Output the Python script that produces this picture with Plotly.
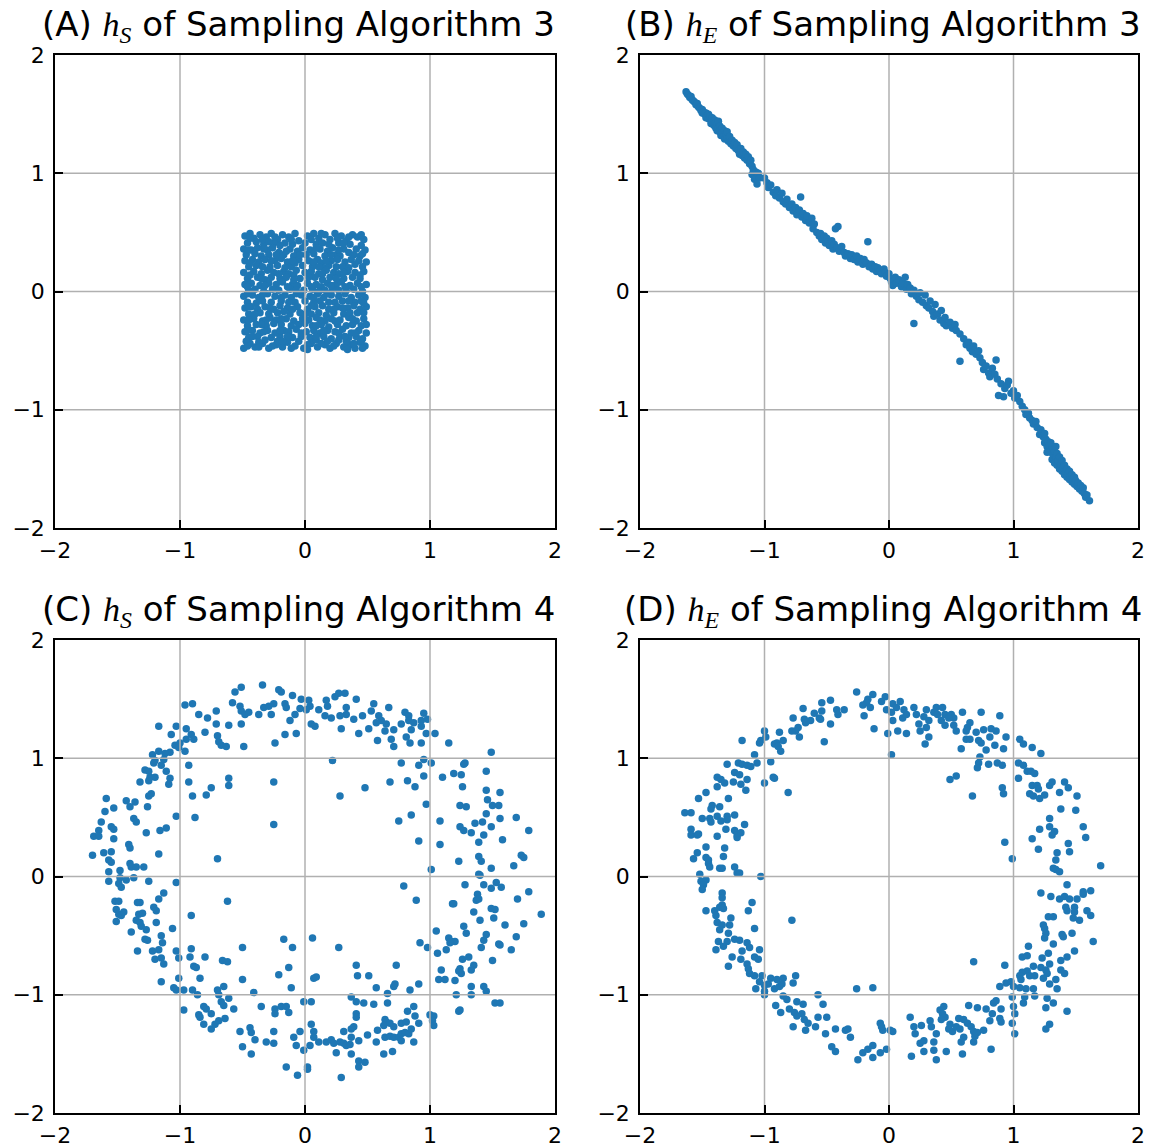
import plotly.graph_objects as go

# ---------------- data ----------------
# (A) h_S, Sampling Algorithm 3: uniform block in [-0.5, 0.5]^2
pts_a = [
    (-0.48,0.47),(-0.44,0.49),(-0.41,0.45),(-0.36,0.48),(-0.31,0.46),(-0.27,0.49),(-0.22,0.44),(-0.18,0.48),(-0.13,0.46),(-0.08,0.49),
    (-0.05,0.43),(0.02,0.47),(0.07,0.49),(0.11,0.45),(0.16,0.48),(0.2,0.44),(0.24,0.49),(0.29,0.47),(0.33,0.43),(0.38,0.48),
    (0.42,0.46),(0.47,0.44),(-0.46,0.41),(-0.39,0.42),(-0.33,0.4),(-0.25,0.41),(-0.16,0.41),(-0.1,0.4),(0.0,0.41),(0.09,0.4),
    (0.14,0.41),(0.27,0.41),(0.36,0.4),(0.45,0.39),(-0.2,0.39),
    (-0.49,0.36),(-0.43,0.35),(-0.38,0.37),(-0.3,0.35),(-0.26,0.37),(-0.21,0.33),(-0.12,0.36),(-0.06,0.34),(-0.02,0.37),(0.04,0.35),
    (0.12,0.36),(0.18,0.34),(0.22,0.37),(0.31,0.36),(0.35,0.33),(0.41,0.36),(0.48,0.35),(-0.47,0.31),(-0.35,0.3),(-0.29,0.31),
    (-0.17,0.31),(-0.09,0.3),(0.01,0.31),(0.07,0.32),(0.16,0.3),(0.25,0.31),(0.28,0.3),(0.39,0.31),(0.44,0.3),(-0.4,0.32),
    (-0.48,0.26),(-0.42,0.27),(-0.37,0.25),(-0.32,0.27),(-0.24,0.26),(-0.19,0.28),(-0.14,0.25),(-0.05,0.27),(0.03,0.26),(0.1,0.27),
    (0.13,0.24),(0.21,0.26),(0.26,0.27),(0.32,0.25),(0.37,0.27),(0.43,0.26),(0.49,0.25),(-0.45,0.21),(-0.39,0.22),(-0.28,0.21),
    (-0.22,0.22),(-0.11,0.21),(-0.02,0.22),(0.06,0.21),(0.15,0.2),(0.19,0.22),(0.3,0.21),(0.35,0.2),(0.46,0.21),(-0.08,0.24),
    (-0.49,0.16),(-0.41,0.17),(-0.35,0.15),(-0.3,0.18),(-0.25,0.16),(-0.17,0.17),(-0.13,0.15),(-0.07,0.18),(0.0,0.16),(0.05,0.17),
    (0.11,0.15),(0.17,0.18),(0.23,0.16),(0.27,0.15),(0.34,0.17),(0.4,0.16),(0.47,0.17),(-0.46,0.11),(-0.38,0.12),(-0.32,0.1),
    (-0.2,0.11),(-0.15,0.12),(-0.04,0.11),(0.08,0.12),(0.14,0.1),(0.2,0.12),(0.31,0.11),(0.38,0.12),(0.44,0.11),(-0.27,0.12),
    (-0.48,0.06),(-0.43,0.07),(-0.36,0.05),(-0.29,0.07),(-0.23,0.06),(-0.18,0.08),(-0.1,0.06),(-0.06,0.05),(0.02,0.07),(0.09,0.06),
    (0.13,0.04),(0.18,0.07),(0.25,0.06),(0.29,0.08),(0.36,0.05),(0.42,0.07),(0.49,0.06),(-0.45,0.01),(-0.4,0.02),(-0.33,0.0),
    (-0.26,0.02),(-0.21,0.01),(-0.12,0.02),(-0.01,0.01),(0.06,0.02),(0.16,0.01),(0.22,0.02),(0.33,0.01),(0.39,0.02),(0.46,0.0),
    (-0.49,-0.04),(-0.42,-0.03),(-0.37,-0.05),(-0.3,-0.02),(-0.24,-0.04),(-0.16,-0.03),(-0.11,-0.05),(-0.03,-0.03),(0.04,-0.04),(0.1,-0.02),
    (0.15,-0.05),(0.21,-0.03),(0.27,-0.04),(0.32,-0.02),(0.37,-0.05),(0.43,-0.03),(0.48,-0.05),(-0.46,-0.09),(-0.34,-0.08),(-0.27,-0.09),
    (-0.19,-0.08),(-0.08,-0.09),(0.0,-0.08),(0.07,-0.09),(0.12,-0.08),(0.24,-0.09),(0.3,-0.08),(0.4,-0.09),(0.45,-0.08),(-0.39,-0.1),
    (-0.48,-0.14),(-0.43,-0.13),(-0.38,-0.15),(-0.32,-0.13),(-0.25,-0.15),(-0.2,-0.12),(-0.14,-0.14),(-0.06,-0.13),(0.02,-0.15),(0.08,-0.13),
    (0.14,-0.12),(0.19,-0.15),(0.26,-0.13),(0.34,-0.14),(0.39,-0.12),(0.44,-0.15),(0.49,-0.13),(-0.45,-0.19),(-0.36,-0.18),(-0.29,-0.19),
    (-0.22,-0.18),(-0.12,-0.19),(-0.04,-0.18),(0.05,-0.19),(0.11,-0.18),(0.17,-0.2),(0.23,-0.18),(0.31,-0.19),(0.42,-0.18),(-0.17,-0.17),
    (-0.49,-0.24),(-0.41,-0.23),(-0.34,-0.25),(-0.28,-0.22),(-0.23,-0.24),(-0.15,-0.23),(-0.09,-0.25),(-0.02,-0.23),(0.03,-0.24),(0.09,-0.22),
    (0.16,-0.25),(0.21,-0.23),(0.28,-0.24),(0.35,-0.22),(0.41,-0.25),(0.47,-0.23),(-0.46,-0.29),(-0.39,-0.28),(-0.31,-0.29),(-0.19,-0.28),
    (-0.11,-0.29),(-0.05,-0.28),(0.06,-0.29),(0.13,-0.28),(0.19,-0.3),(0.26,-0.28),(0.33,-0.29),(0.38,-0.28),(0.45,-0.29),(-0.25,-0.27),
    (-0.48,-0.34),(-0.42,-0.33),(-0.36,-0.35),(-0.3,-0.33),(-0.24,-0.35),(-0.17,-0.33),(-0.13,-0.34),(-0.07,-0.32),(0.01,-0.34),(0.07,-0.33),
    (0.12,-0.35),(0.18,-0.33),(0.24,-0.34),(0.3,-0.32),(0.37,-0.35),(0.43,-0.33),(0.49,-0.35),(-0.45,-0.39),(-0.38,-0.38),(-0.27,-0.39),
    (-0.2,-0.38),(-0.1,-0.39),(-0.03,-0.38),(0.04,-0.39),(0.15,-0.38),(0.21,-0.4),(0.28,-0.38),(0.35,-0.39),(0.41,-0.38),(0.46,-0.4),
    (-0.49,-0.48),(-0.44,-0.44),(-0.4,-0.47),(-0.34,-0.44),(-0.29,-0.48),(-0.23,-0.45),(-0.18,-0.47),(-0.14,-0.43),(-0.08,-0.46),(-0.01,-0.48),
    (0.05,-0.44),(0.1,-0.47),(0.16,-0.45),(0.2,-0.48),(0.25,-0.44),(0.31,-0.47),(0.36,-0.45),(0.4,-0.48),(0.44,-0.43),(0.48,-0.46),
    (-0.47,-0.42),(-0.32,-0.41),(-0.22,-0.42),(-0.05,-0.42),(0.09,-0.41),(0.18,-0.42),(0.33,-0.42),(0.39,-0.44),(-0.37,-0.43),(0.02,-0.45),
    (-0.44,0.45),(-0.34,0.44),(-0.24,0.46),(-0.11,0.44),(0.05,0.44),(0.13,0.49),(0.26,0.45),(0.35,0.46),(0.45,0.48),(-0.29,0.42),
    (0.19,0.4),(0.31,0.41),(-0.45,0.35),(-0.33,0.36),(-0.15,0.34),(0.09,0.37),(0.27,0.35),(0.46,0.32),(-0.23,0.31),(0.21,0.31),
    (-0.04,0.31),(-0.44,0.24),(-0.27,0.26),(-0.1,0.26),(0.07,0.25),(0.17,0.26),(0.4,0.23),(-0.34,0.21),(0.25,0.21),(-0.16,0.2),
    (0.11,0.21),(-0.44,0.14),(-0.21,0.15),(-0.09,0.14),(0.14,0.15),(0.31,0.16),(0.44,0.14),(-0.35,0.11),(0.03,0.12),(0.25,0.11),
    (-0.09,0.1),(-0.46,0.04),(-0.32,0.05),(-0.14,0.04),(0.05,0.04),(0.21,0.05),(0.32,0.04),(0.45,0.04),(-0.07,0.01),(0.11,0.0),
    (0.27,0.01),(-0.46,-0.02),(-0.34,-0.03),(-0.19,-0.05),(-0.07,-0.02),(0.07,-0.05),(0.18,-0.02),(0.35,-0.08),(0.47,-0.1),(-0.13,-0.09),
    (0.19,-0.09),(-0.45,-0.13),(-0.28,-0.14),(-0.1,-0.15),(0.05,-0.12),(0.23,-0.15),(0.3,-0.14),(0.47,-0.18),(-0.4,-0.19),(0.0,-0.19),
    (0.36,-0.18),(-0.45,-0.24),(-0.31,-0.24),(-0.19,-0.23),(0.0,-0.27),(0.12,-0.24),(0.24,-0.25),(0.38,-0.23),(0.49,-0.28),(-0.35,-0.28),
    (0.09,-0.29),(-0.46,-0.33),(-0.33,-0.34),(-0.2,-0.33),(-0.03,-0.35),(0.15,-0.33),(0.27,-0.35),(0.4,-0.35),(-0.42,-0.38),(-0.14,-0.38),
    (0.09,-0.38),(0.32,-0.38),(-0.46,-0.46),(-0.37,-0.47),(-0.26,-0.46),(-0.11,-0.48),(0.02,-0.49),(0.13,-0.44),(0.23,-0.46),(0.34,-0.49),
    (0.46,-0.48),(-0.18,-0.42),(0.27,-0.41),(0.45,-0.42),
]

# (B) h_E, Sampling Algorithm 3: narrow band along the anti-diagonal
pts_b = [
    (-1.63,1.69),(-1.62,1.67),(-1.61,1.66),(-1.60,1.64),(-1.59,1.65),(-1.58,1.62),(-1.57,1.61),(-1.56,1.60),(-1.55,1.58),(-1.54,1.59),
    (-1.53,1.56),(-1.52,1.55),(-1.51,1.53),(-1.50,1.54),(-1.50,1.51),(-1.49,1.52),(-1.48,1.50),(-1.47,1.51),(-1.47,1.47),(-1.46,1.49),
    (-1.45,1.46),(-1.45,1.50),(-1.44,1.48),(-1.43,1.45),(-1.43,1.42),(-1.42,1.47),(-1.42,1.44),(-1.41,1.41),(-1.40,1.45),(-1.40,1.40),
    (-1.39,1.43),(-1.39,1.38),(-1.38,1.41),(-1.38,1.36),(-1.37,1.39),(-1.37,1.44),(-1.36,1.35),(-1.36,1.40),(-1.35,1.37),(-1.35,1.32),
    (-1.34,1.38),(-1.34,1.34),(-1.33,1.31),(-1.32,1.36),(-1.32,1.29),(-1.31,1.33),(-1.30,1.30),(-1.30,1.35),(-1.29,1.27),(-1.28,1.31),
    (-1.27,1.25),(-1.26,1.28),(-1.25,1.23),(-1.24,1.26),(-1.23,1.21),(-1.22,1.24),(-1.21,1.19),(-1.20,1.16),(-1.19,1.21),(-1.18,1.15),
    (-1.17,1.18),(-1.16,1.13),(-1.15,1.16),(-1.14,1.11),(-1.13,1.14),(-1.12,1.08),(-1.11,1.11),(-1.10,1.06),(-1.09,1.03),(-1.10,0.99),
    (-1.08,0.98),(-1.07,1.01),(-1.06,0.97),(-1.05,1.00),(-1.08,0.95),(-1.04,0.96),(-1.06,0.91),
    (-1.00,0.96),(-0.98,0.92),(-0.97,0.88),(-0.95,0.90),(-0.93,0.84),(-0.91,0.81),(-0.90,0.86),(-0.88,0.79),(-0.86,0.83),(-0.85,0.76),
    (-0.83,0.74),(-0.82,0.78),(-0.80,0.71),(-0.78,0.74),(-0.77,0.68),(-0.75,0.71),(-0.74,0.65),(-0.72,0.69),(-0.71,0.80),(-0.70,0.63),
    (-0.69,0.66),(-0.67,0.60),(-0.66,0.64),(-0.64,0.58),(-0.62,0.62),(-0.61,0.53),(-0.60,0.57),(-0.58,0.50),(-0.56,0.47),(-0.55,0.49),
    (-0.54,0.44),(-0.52,0.47),(-0.51,0.41),(-0.50,0.45),(-0.49,0.42),(-0.48,0.39),(-0.46,0.43),(-0.45,0.36),(-0.44,0.40),(-0.43,0.53),
    (-0.42,0.37),(-0.41,0.55),(-0.40,0.34),(-0.38,0.38),(-0.36,0.33),(-0.35,0.30),(-0.33,0.32),(-0.31,0.28),(-0.30,0.31),(-0.28,0.27),
    (-0.26,0.30),(-0.25,0.25),(-0.23,0.28),(-0.21,0.23),(-0.20,0.27),(-0.18,0.24),(-0.17,0.42),(-0.16,0.21),(-0.14,0.23),(-0.13,0.19),
    (-0.11,0.21),(-0.10,0.17),(-0.09,0.20),(-0.07,0.18),(-0.06,0.15),(-0.04,0.19),(-0.03,0.16),(-0.02,0.13),(0.00,0.15),(0.01,0.11),
    (0.02,0.08),(0.03,0.05),(0.05,0.12),(0.06,0.07),(0.08,0.10),(0.10,0.04),(0.11,0.07),(0.13,0.12),(0.14,0.02),(0.15,0.06),
    (0.17,0.03),(0.18,-0.02),(0.20,0.01),(0.20,-0.27),(0.22,-0.04),(0.24,-0.07),(0.25,-0.01),(0.27,-0.09),(0.29,-0.03),(0.30,-0.12),
    (0.32,-0.14),(0.33,-0.08),(0.35,-0.17),(0.36,-0.21),(0.37,-0.11),(0.39,-0.19),(0.41,-0.24),(0.42,-0.16),(0.44,-0.27),(0.45,-0.22),
    (0.46,-0.29),(0.49,-0.26),(0.51,-0.31),(0.53,-0.28),(0.54,-0.33),(0.57,-0.36),(0.57,-0.59),(0.60,-0.40),(0.62,-0.45),(0.64,-0.43),
    (0.65,-0.48),(0.67,-0.51),(0.68,-0.46),(0.70,-0.53),(0.72,-0.50),(0.73,-0.56),(0.75,-0.60),(0.76,-0.66),(0.78,-0.63),(0.80,-0.69),
    (0.81,-0.72),(0.83,-0.65),(0.85,-0.70),(0.86,-0.58),(0.87,-0.74),(0.88,-0.88),(0.90,-0.78),(0.92,-0.89),(0.93,-0.82),(0.95,-0.79),
    (0.96,-0.76),(0.98,-0.86),(1.00,-0.84),(1.01,-0.90),(1.03,-0.88),(1.05,-0.93),(1.07,-0.97),(1.09,-1.00),(1.10,-1.04),
    (1.12,-1.03),(1.13,-1.07),(1.15,-1.09),(1.16,-1.12),(1.18,-1.10),(1.19,-1.15),(1.21,-1.21),(1.22,-1.17),(1.24,-1.23),(1.25,-1.28),
    (1.26,-1.25),(1.27,-1.31),(1.28,-1.27),(1.28,-1.34),(1.29,-1.30),(1.30,-1.36),(1.31,-1.32),(1.31,-1.42),(1.32,-1.38),(1.33,-1.35),
    (1.33,-1.45),(1.34,-1.40),(1.35,-1.37),(1.35,-1.47),(1.36,-1.43),(1.37,-1.50),(1.37,-1.40),(1.38,-1.46),(1.39,-1.52),(1.39,-1.43),
    (1.40,-1.49),(1.41,-1.55),(1.41,-1.47),(1.42,-1.52),(1.43,-1.57),(1.43,-1.50),(1.44,-1.54),(1.45,-1.59),(1.45,-1.52),(1.46,-1.56),
    (1.47,-1.61),(1.47,-1.55),(1.48,-1.58),(1.49,-1.63),(1.49,-1.57),(1.50,-1.60),(1.51,-1.65),(1.52,-1.62),(1.53,-1.67),(1.54,-1.64),
    (1.55,-1.69),(1.56,-1.66),(1.57,-1.71),(1.58,-1.74),(1.59,-1.72),(1.61,-1.77),(1.25,-1.20),(1.27,-1.36),(1.30,-1.28),(1.34,-1.31),
]

# (C) h_S, Sampling Algorithm 4: noisy ring
pts_c = [
    (-0.51,1.60),(-0.34,1.62),(-0.56,1.56),(-0.21,1.58),(-0.19,1.56),(-0.10,1.53),(-0.03,1.50),(-0.58,1.47),(-0.52,1.44),(-0.51,1.40),
    (-0.48,1.37),(-0.45,1.39),(-0.37,1.37),(-0.33,1.43),(-0.29,1.44),(-0.25,1.46),(-0.16,1.46),(-0.15,1.43),(-0.08,1.37),(-0.12,1.32),
    (-0.27,1.37),(-0.51,1.29),(-0.49,1.10),(-0.24,1.13),(-0.16,1.20),(-0.07,1.21),(-0.04,1.42),(-0.96,1.45),(-0.90,1.46),(-0.85,1.37),
    (-0.78,1.34),(-0.71,1.40),(-0.71,1.29),(-0.61,1.28),(-0.80,1.22),(-0.70,1.19),(-0.69,1.14),(-0.67,1.11),(-0.63,1.10),(-1.17,1.27),
    (-1.07,1.20),(-1.03,1.27),(-0.95,1.25),(-0.91,1.20),(-0.89,1.16),(-0.95,1.16),(-1.00,1.13),(-1.04,1.11),(-1.01,1.09),(-0.96,1.06),
    (-1.08,1.05),(-1.12,1.04),(-1.17,1.06),(-1.22,1.03),(-1.20,0.98),(-1.13,0.99),(-1.15,0.94),(-1.11,0.89),(-1.21,0.96),(-1.28,0.90),
    (-1.25,0.89),(-1.24,0.84),(-1.20,0.84),(-1.08,0.83),(-1.09,0.78),(-1.32,0.80),(-1.25,0.81),(-0.93,0.94),(-0.93,0.80),(-0.90,0.68),
    (-0.79,0.69),(-0.75,0.75),(-0.61,0.83),(-0.61,0.77),(-0.25,0.80),(-0.25,0.44),(-0.88,0.50),(-1.03,0.51),(-1.59,0.66),(-1.60,0.55),
    (-1.53,0.58),(-1.43,0.64),(-1.40,0.59),(-1.36,0.63),(-1.26,0.59),(-1.25,0.68),(-1.23,0.70),(-1.37,0.49),(-1.35,0.46),(-1.63,0.46),
    (-1.65,0.39),(-1.69,0.34),(-1.65,0.34),(-1.55,0.42),(-1.53,0.40),(-1.53,0.32),(-1.41,0.27),(-1.40,0.24),(-1.27,0.37),(-1.16,0.39),
    (-1.11,0.41),(-1.70,0.18),(-1.61,0.20),(-1.55,0.21),(-1.17,0.19),(-1.57,0.14),(-0.70,0.15),
    (0.03,1.49),(0.04,1.44),(0.01,1.41),(0.11,1.41),(0.05,1.29),(0.08,1.27),(0.17,1.49),(0.18,1.44),(0.24,1.52),(0.27,1.55),
    (0.32,1.55),(0.41,1.50),(0.33,1.43),(0.33,1.37),(0.28,1.36),(0.21,1.34),(0.16,1.36),(0.29,1.25),(0.39,1.33),(0.46,1.36),
    (0.43,1.21),(0.51,1.25),(0.55,1.46),(0.53,1.40),(0.59,1.36),(0.61,1.32),(0.65,1.29),(0.67,1.43),(0.57,1.30),(0.64,1.23),
    (0.71,1.24),(0.58,1.15),(0.69,1.16),(0.71,1.10),(0.80,1.39),(0.83,1.36),(0.95,1.38),(0.83,1.32),(0.87,1.30),(0.93,1.32),
    (0.93,1.27),(0.85,1.24),(0.77,1.29),(0.81,1.18),(0.84,1.13),(0.93,1.13),(0.98,1.33),(0.97,1.21),(1.04,1.21),(1.15,1.13),
    (1.49,1.05),(0.22,0.98),(0.28,0.68),(0.48,0.75),(0.68,0.80),(0.77,0.96),(0.82,0.81),(0.88,0.76),(0.91,0.94),(0.95,0.99),
    (0.95,0.85),(1.01,0.96),(1.10,0.84),(1.19,0.87),(1.25,0.86),(1.27,0.95),(1.28,0.96),(1.26,0.76),(1.45,0.89),(1.45,0.73),
    (1.46,0.65),(1.50,0.60),(1.55,0.60),(1.56,0.71),(1.24,0.60),(1.29,0.59),(1.45,0.53),(1.56,0.49),(1.69,0.50),(0.97,0.61),
    (0.85,0.52),(0.75,0.47),(1.08,0.47),(1.24,0.42),(1.27,0.39),(1.33,0.37),(1.36,0.45),(1.42,0.46),(1.49,0.42),(1.43,0.35),
    (1.39,0.29),(1.58,0.31),(1.79,0.39),(0.91,0.30),(1.08,0.27),(1.39,0.17),(1.73,0.18),(1.75,0.16),
    (-1.55,0.12),(-1.40,0.11),(-1.39,0.08),(-1.35,0.08),(-1.29,0.08),(-1.57,0.04),(-1.48,0.05),(-1.57,-0.04),(-1.48,-0.01),(-1.49,-0.06),
    (-1.47,-0.09),(-1.43,-0.03),(-1.37,-0.01),(-1.25,-0.04),(-1.03,-0.05),(-1.52,-0.21),(-1.49,-0.21),(-1.51,-0.28),(-1.49,-0.32),(-1.47,-0.33),
    (-1.45,-0.30),(-1.51,-0.38),(-1.34,-0.22),(-1.32,-0.22),(-1.33,-0.32),(-1.30,-0.31),(-1.35,-0.37),(-1.32,-0.39),(-1.31,-0.42),(-1.27,-0.45),
    (-1.21,-0.26),(-1.19,-0.29),(-1.19,-0.39),(-1.17,-0.19),(-1.13,-0.14),(-1.39,-0.47),(-1.28,-0.53),(-1.26,-0.54),(-1.15,-0.50),(-1.14,-0.56),
    (-1.06,-0.44),(-0.91,-0.33),(-0.62,-0.21),(-1.34,-0.63),(-1.22,-0.63),(-1.17,-0.62),(-1.20,-0.70),(-1.15,-0.69),(-1.13,-0.74),(-1.03,-0.63),
    (-1.01,-0.69),(-0.91,-0.61),(-0.92,-0.68),(-0.80,-0.68),(-0.89,-0.76),(-0.87,-0.77),(-0.84,-0.86),(-1.15,-0.89),(-1.01,-0.86),(-1.05,-0.94),
    (-1.03,-0.96),(-0.97,-0.96),(-0.90,-0.96),(-0.86,-1.00),(-0.70,-0.96),(-0.65,-0.93),(-0.69,-1.00),(-0.67,-1.06),(-0.65,-1.09),(-0.61,-1.03),
    (-0.64,-1.20),(-0.57,-1.12),(-0.66,-0.71),(-0.62,-0.72),(-0.50,-0.60),(-0.50,-0.87),(-0.41,-0.98),(-0.17,-0.53),(-0.10,-0.60),(-0.13,-0.77),
    (-0.21,-0.83),(-0.11,-0.94),(-0.97,-1.13),(-0.81,-1.10),(-0.79,-1.12),(-0.85,-1.17),(-0.84,-1.19),(-0.81,-1.25),(-0.75,-1.16),(-0.75,-1.29),
    (-0.72,-1.25),(-0.69,-1.22),(-0.52,-1.31),(-0.44,-1.28),(-0.43,-1.32),(-0.40,-1.38),(-0.50,-1.44),(-0.43,-1.50),(-0.35,-1.10),(-0.31,-1.40),
    (-0.25,-1.31),(-0.25,-1.41),(-0.24,-1.12),(-0.24,-1.16),(-0.19,-1.10),(-0.15,-1.10),(-0.13,-1.15),(-0.09,-1.36),(-0.07,-1.43),(-0.04,-1.31),
    (-0.01,-1.06),(-0.01,-1.47),(-0.15,-1.61),(-0.06,-1.68),
    (1.01,0.06),(1.23,0.13),(1.41,0.13),(1.49,0.07),(1.67,0.09),(1.39,0.02),(1.40,0.01),(1.28,-0.07),(1.43,-0.07),(1.49,-0.10),
    (1.53,-0.05),(1.57,-0.09),(0.79,-0.08),(0.89,-0.20),(1.79,-0.13),(1.38,-0.15),(1.37,-0.20),(1.39,-0.19),(1.18,-0.23),(1.19,-0.23),
    (1.70,-0.19),(1.35,-0.30),(1.49,-0.27),(1.52,-0.28),(1.40,-0.37),(1.51,-0.35),(1.89,-0.32),(1.75,-0.40),(1.60,-0.41),(1.27,-0.42),
    (1.29,-0.48),(1.05,-0.46),(1.45,-0.49),(1.69,-0.51),(1.15,-0.52),(1.17,-0.55),(1.20,-0.55),(1.16,-0.56),(1.43,-0.54),(1.41,-0.60),
    (1.55,-0.57),(1.56,-0.58),(1.65,-0.62),(0.92,-0.56),(0.98,-0.60),(1.06,-0.65),(1.13,-0.62),(1.26,-0.70),(1.31,-0.68),(1.50,-0.71),
    (1.35,-0.75),(1.33,-0.79),(1.24,-0.78),(1.25,-0.82),(1.23,-0.80),(1.09,-0.79),(1.07,-0.87),(1.12,-0.87),(1.20,-0.88),(1.33,-0.93),
    (1.43,-0.93),(1.45,-0.97),(1.21,-1.00),(1.33,-1.00),(1.23,-1.14),(1.24,-1.13),(1.52,-1.07),(1.56,-1.07),(0.06,-0.52),(0.27,-0.60),
    (0.07,-0.86),(0.09,-0.85),(0.41,-0.75),(0.42,-0.84),(0.51,-0.84),(0.73,-0.75),(0.57,-0.94),(0.71,-0.93),(0.72,-0.91),(0.66,-0.99),
    (0.66,-1.07),(0.84,-0.96),(0.91,-0.91),(0.37,-1.02),(0.41,-1.06),(0.47,-1.07),(0.55,-1.08),(0.05,-1.06),(0.41,-1.16),(0.41,-1.19),
    (0.87,-1.10),(0.82,-1.14),(0.88,-1.18),(0.91,-1.24),(1.00,-1.17),(1.03,-1.18),(1.02,-1.22),(1.03,-1.26),(0.05,-1.25),(0.07,-1.31),
    (0.07,-1.36),(0.11,-1.40),(0.04,-1.43),(0.02,-1.61),(0.02,-1.63),(0.17,-1.40),(0.21,-1.38),(0.23,-1.41),(0.28,-1.40),(0.31,-1.41),
    (0.33,-1.43),(0.36,-1.42),(0.31,-1.31),(0.37,-1.29),(0.39,-1.27),(0.37,-1.36),(0.43,-1.39),(0.25,-1.49),(0.37,-1.50),(0.43,-1.56),
    (0.43,-1.61),(0.48,-1.57),(0.29,-1.70),(0.50,-1.34),(0.57,-1.40),(0.58,-1.30),(0.63,-1.50),(0.70,-1.48),(0.64,-1.21),(0.65,-1.23),
    (0.63,-1.26),(0.68,-1.24),(0.71,-1.27),(0.64,-1.36),(0.68,-1.35),(0.71,-1.36),(0.75,-1.36),(0.77,-1.33),(0.77,-1.39),(0.80,-1.32),
    (0.83,-1.33),(0.85,-1.29),(0.77,-1.24),(0.81,-1.23),(0.87,-1.40),
]

# (D) h_E, Sampling Algorithm 4: noisy ring
pts_d = [
    (-0.26,1.56),(-0.13,1.54),(-0.17,1.50),(-0.18,1.47),(-0.15,1.43),(-0.21,1.45),(-0.20,1.36),(-0.03,1.52),(-0.06,1.48),(-0.02,1.41),
    (-0.12,1.25),(-0.01,1.21),(-0.47,1.49),(-0.54,1.47),(-0.42,1.41),(-0.41,1.37),(-0.36,1.41),(-0.69,1.42),(-0.54,1.40),(-0.56,1.34),
    (-0.55,1.33),(-0.60,1.38),(-0.63,1.32),(-0.67,1.30),(-0.68,1.33),(-0.77,1.34),(-0.47,1.29),(-0.73,1.26),(-0.75,1.23),(-0.78,1.23),
    (-0.72,1.18),(-0.88,1.22),(-1.00,1.23),(-0.99,1.18),(-1.03,1.15),(-1.04,1.13),(-0.90,1.13),(-0.92,1.12),(-0.85,1.15),(-0.87,1.06),
    (-0.89,1.10),(-0.52,1.14),(-1.18,1.15),(-1.08,1.03),(-1.21,0.96),(-1.18,0.95),(-1.14,0.94),(-1.11,0.93),(-1.06,0.96),(-1.30,0.95),
    (-0.95,0.97),(-1.24,0.88),(-1.20,0.86),(-1.14,0.82),(-1.19,0.78),(-1.15,0.73),(-0.93,0.84),(-0.92,0.83),(-1.00,0.79),(-0.81,0.71),
    (-1.38,0.84),(-1.35,0.82),(-1.38,0.76),(-1.32,0.79),(-1.25,0.80),(-1.29,0.66),(-1.47,0.71),(-1.53,0.66),(-1.42,0.60),(-1.43,0.57),
    (-1.36,0.59),(-1.44,0.49),(-1.43,0.46),(-1.50,0.49),(-1.38,0.51),(-1.35,0.47),(-1.30,0.51),(-1.30,0.48),(-1.24,0.52),(-1.31,0.40),
    (-1.38,0.34),(-1.64,0.54),(-1.59,0.54),(-1.59,0.40),(-1.59,0.35),(-1.54,0.35),(-1.53,0.36),(-1.24,0.39),(-1.22,0.35),(-1.22,0.33),
    (-1.19,0.37),(-1.16,0.44),(-1.47,0.25),(-1.54,0.20),(-1.57,0.15),(-1.47,0.16),(-1.45,0.14),(-1.32,0.24),(-1.33,0.17),
    (-1.45,0.11),(-1.44,0.08),(-1.36,0.07),(-1.34,0.07),(-1.24,0.08),(-1.22,0.03),(-1.20,0.03),(-1.03,0.00),(-1.52,0.02),(-1.51,-0.04),
    (-1.47,-0.03),(-1.49,-0.07),(-1.50,-0.11),(-1.34,-0.14),(-1.34,-0.18),(-1.34,-0.24),(-1.36,-0.26),(-1.33,-0.27),(-1.47,-0.29),(-1.40,-0.29),
    (-1.39,-0.33),(-1.10,-0.22),(-1.13,-0.29),(-1.08,-0.44),(-1.38,-0.39),(-1.34,-0.41),(-1.36,-0.45),(-1.29,-0.48),(-1.28,-0.41),(-1.27,-0.35),
    (-1.37,-0.55),(-1.30,-0.55),(-1.33,-0.59),(-1.39,-0.62),(-1.24,-0.53),(-1.20,-0.54),(-1.14,-0.56),(-1.12,-0.60),(-1.04,-0.62),(-1.18,-0.63),
    (-1.26,-0.68),(-1.19,-0.70),(-1.14,-0.74),(-1.08,-0.68),(-1.05,-0.70),(-1.29,-0.76),(-1.13,-0.78),(-1.12,-0.82),(-1.08,-0.84),(-0.78,-0.37),
    (-1.02,-0.84),(-1.04,-0.89),(-1.07,-0.95),(-1.00,-0.97),(-1.00,-0.92),(-0.97,-0.91),(-0.95,-0.86),(-0.90,-0.87),(-0.92,-0.95),(-0.88,-0.93),
    (-0.85,-0.86),(-0.86,-0.91),(-0.75,-0.84),(-0.77,-0.90),(-1.00,-1.00),(-0.85,-1.01),(-0.82,-1.04),(-0.91,-1.09),(-0.87,-1.15),(-0.80,-1.12),
    (-0.74,-1.06),(-0.69,-1.08),(-0.76,-1.15),(-0.74,-1.18),(-0.70,-1.16),(-0.68,-1.21),(-0.65,-1.24),(-0.77,-1.27),(-0.67,-1.30),(-0.59,-1.27),
    (-0.57,-1.00),(-0.57,-1.19),(-0.53,-1.08),(-0.50,-1.19),(-0.51,-1.33),(-0.46,-1.44),(-0.43,-1.48),(-0.43,-1.29),(-0.35,-1.30),(-0.33,-1.29),
    (-0.31,-1.36),(-0.26,-0.95),(-0.13,-0.94),(-0.25,-1.55),(-0.21,-1.49),(-0.17,-1.46),(-0.13,-1.43),(-0.13,-1.53),(-0.07,-1.49),(-0.02,-1.46),
    (-0.07,-1.24),(-0.05,-1.30),(-0.06,-1.27),
    (0.03,1.46),(0.09,1.48),(0.06,1.43),(0.12,1.41),(0.02,1.39),(0.03,1.32),(0.11,1.34),(0.14,1.37),(0.20,1.43),(0.22,1.37),
    (0.28,1.35),(0.30,1.41),(0.24,1.29),(0.32,1.32),(0.30,1.26),(0.25,1.23),(0.07,1.23),(0.14,1.21),(0.02,1.03),(0.36,1.39),
    (0.38,1.43),(0.43,1.43),(0.39,1.37),(0.45,1.37),(0.50,1.37),(0.52,1.34),(0.48,1.34),(0.42,1.32),(0.45,1.28),(0.52,1.28),
    (0.59,1.39),(0.63,1.26),(0.65,1.30),(0.62,1.23),(0.54,1.23),(0.74,1.39),(0.89,1.36),(0.70,1.22),(0.76,1.24),(0.82,1.25),
    (0.86,1.23),(0.72,1.15),(0.74,1.13),(0.81,1.18),(0.85,1.11),(0.94,1.18),(0.92,1.08),(0.78,1.07),(0.58,1.08),(0.62,1.16),
    (0.65,1.16),(0.32,1.18),(0.29,1.12),(1.05,1.16),(1.08,1.12),(1.15,1.09),(1.22,1.04),(0.73,1.01),(0.72,0.96),(0.71,0.92),
    (0.80,0.95),(0.87,0.96),(0.91,0.94),(1.04,0.96),(1.08,0.94),(1.11,0.89),(1.14,0.89),(1.17,0.87),(1.04,0.83),(0.54,0.85),
    (0.49,0.82),(0.67,0.68),(0.91,0.75),(0.92,0.70),(1.15,0.77),(1.19,0.77),(1.20,0.74),(1.13,0.70),(1.16,0.68),(1.21,0.66),
    (1.25,0.69),(1.29,0.77),(1.31,0.80),(1.37,0.71),(1.41,0.80),(1.44,0.75),(1.51,0.68),(1.38,0.57),(1.50,0.56),(1.29,0.49),
    (1.21,0.40),(1.29,0.42),(1.33,0.38),(1.31,0.35),(1.56,0.42),(1.58,0.33),(1.15,0.32),(1.20,0.23),(1.44,0.28),(1.45,0.21),
    (1.35,0.20),(1.34,0.14),(0.93,0.29),(0.99,0.15),
    (1.32,0.07),(1.34,0.06),(1.37,0.04),(1.70,0.09),(1.43,-0.07),(1.22,-0.14),(1.30,-0.17),(1.37,-0.19),(1.41,-0.17),(1.45,-0.19),
    (1.51,-0.19),(1.56,-0.13),(1.56,-0.15),(1.62,-0.12),(1.42,-0.26),(1.43,-0.29),(1.49,-0.26),(1.49,-0.30),(1.48,-0.35),(1.53,-0.37),
    (1.59,-0.29),(1.62,-0.33),(1.28,-0.34),(1.32,-0.34),(1.24,-0.41),(1.25,-0.44),(1.26,-0.48),(1.25,-0.52),(1.39,-0.49),(1.40,-0.51),
    (1.47,-0.48),(1.32,-0.57),(1.64,-0.55),(1.12,-0.59),(1.07,-0.68),(1.11,-0.67),(1.49,-0.63),(1.43,-0.68),(1.28,-0.65),(1.23,-0.69),
    (1.29,-0.74),(1.38,-0.71),(1.38,-0.79),(1.41,-0.82),(1.22,-0.77),(1.16,-0.76),(1.26,-0.79),(1.27,-0.82),(1.11,-0.80),(1.07,-0.81),
    (1.05,-0.84),(1.06,-0.87),(1.13,-0.84),(1.17,-0.84),(1.24,-0.86),(1.34,-0.87),(1.29,-0.91),(0.93,-0.75),(0.68,-0.72),(0.89,-0.93),
    (0.94,-0.90),(0.98,-0.89),(1.00,-0.93),(1.05,-0.94),(1.10,-0.95),(1.16,-0.95),(1.09,-1.02),(1.17,-1.01),(1.27,-1.03),(1.35,-0.95),
    (0.99,-1.02),(1.08,-1.07),(1.32,-1.07),(1.26,-1.11),(1.43,-1.14),(1.29,-1.25),(1.26,-1.29),(0.86,-1.05),(0.84,-1.07),(0.90,-1.12),
    (0.78,-1.12),(0.83,-1.16),(0.81,-1.22),(0.89,-1.20),(0.90,-1.23),(1.00,-1.10),(1.01,-1.16),(0.99,-1.24),(1.01,-1.33),(0.64,-1.09),
    (0.71,-1.11),(0.56,-1.20),(0.60,-1.21),(0.63,-1.24),(0.66,-1.27),(0.68,-1.31),(0.71,-1.32),(0.76,-1.30),(0.69,-1.35),(0.68,-1.40),
    (0.82,-1.46),(0.41,-1.13),(0.44,-1.10),(0.43,-1.16),(0.45,-1.19),(0.42,-1.21),(0.49,-1.25),(0.48,-1.29),(0.51,-1.31),(0.54,-1.27),
    (0.57,-1.29),(0.60,-1.36),(0.58,-1.40),(0.59,-1.50),(0.17,-1.19),(0.20,-1.27),(0.21,-1.33),(0.26,-1.26),(0.33,-1.22),(0.34,-1.27),
    (0.38,-1.33),(0.36,-1.40),(0.25,-1.41),(0.28,-1.39),(0.28,-1.48),(0.36,-1.47),(0.38,-1.55),(0.46,-1.48),(0.18,-1.52),(0.03,-1.31),
    (0.01,-1.30),
]

panel_titles = [
    "(A) {m} of Sampling Algorithm 3",
    "(B) {m} of Sampling Algorithm 3",
    "(C) {m} of Sampling Algorithm 4",
    "(D) {m} of Sampling Algorithm 4",
]
panel_symbols = ["S", "E", "S", "E"]

tick_vals = [-2, -1, 0, 1, 2]
tick_text = ["\u22122", "\u22121", "0", "1", "2"]
grid_vals = [-1, 0, 1]

# ---------------- layout geometry ----------------
W, H = 1153, 1148
x_domains = [[55 / W, 555 / W], [640 / W, 1138 / W]]
y_domains = [[1 - 528 / H, 1 - 55 / H], [1 - 1113 / H, 1 - 640 / H]]

COLOR = "#1f77b4"
GRID = "#b0b0b0"
FONT = "DejaVu Sans"

fig = go.Figure()
panels = [pts_a, pts_b, pts_c, pts_d]
layout_axes = {}
annotations = []

for i, pts in enumerate(panels):
    row, col = divmod(i, 2)
    sfx = "" if i == 0 else str(i + 1)
    xa, ya = "x" + sfx, "y" + sfx

    xs = [p[0] for p in pts]
    ys = [p[1] for p in pts]
    fig.add_trace(go.Scatter(
        x=xs, y=ys, mode="markers",
        marker=dict(color=COLOR, size=7.5, line=dict(width=0)),
        xaxis=xa, yaxis=ya, showlegend=False, hoverinfo="skip",
    ))

    # grid lines drawn after the markers so they sit on top of them
    for v in grid_vals:
        fig.add_trace(go.Scatter(x=[v, v], y=[-2, 2], mode="lines",
                                 line=dict(color=GRID, width=1.5),
                                 xaxis=xa, yaxis=ya, showlegend=False, hoverinfo="skip"))
        fig.add_trace(go.Scatter(x=[-2, 2], y=[v, v], mode="lines",
                                 line=dict(color=GRID, width=1.5),
                                 xaxis=xa, yaxis=ya, showlegend=False, hoverinfo="skip"))

    axis_common = dict(
        range=[-2, 2], tickmode="array", tickvals=tick_vals, ticktext=tick_text,
        ticks="inside", ticklen=8, tickwidth=1.5, tickcolor="black",
        showline=True, linecolor="black", linewidth=1.5, mirror=True,
        showgrid=False, zeroline=False, fixedrange=True, automargin=False,
        layer="above traces",
        tickfont=dict(family=FONT, size=22, color="black"),
    )
    layout_axes["xaxis" + sfx] = dict(axis_common, domain=x_domains[col],
                                      anchor=ya, ticklabelstandoff=2)
    layout_axes["yaxis" + sfx] = dict(axis_common, domain=y_domains[row],
                                      anchor=xa, ticklabelstandoff=4)

    math = ("<span style=\"font-family:'Liberation Serif'\"><i>h</i>"
            "<sub><i>" + panel_symbols[i] + "</i></sub></span>")
    annotations.append(dict(
        text=panel_titles[i].format(m=math),
        xref="paper", yref="paper",
        x=sum(x_domains[col]) / 2 - 6 / W, y=y_domains[row][1] + 5 / H,
        xanchor="center", yanchor="bottom", showarrow=False,
        font=dict(family=FONT, size=34, color="black"),
    ))

fig.update_layout(
    width=W, height=H,
    margin=dict(l=0, r=0, t=0, b=0, pad=0, autoexpand=False),
    paper_bgcolor="white", plot_bgcolor="white",
    annotations=annotations,
    **layout_axes,
)

fig.write_html("out.html")
